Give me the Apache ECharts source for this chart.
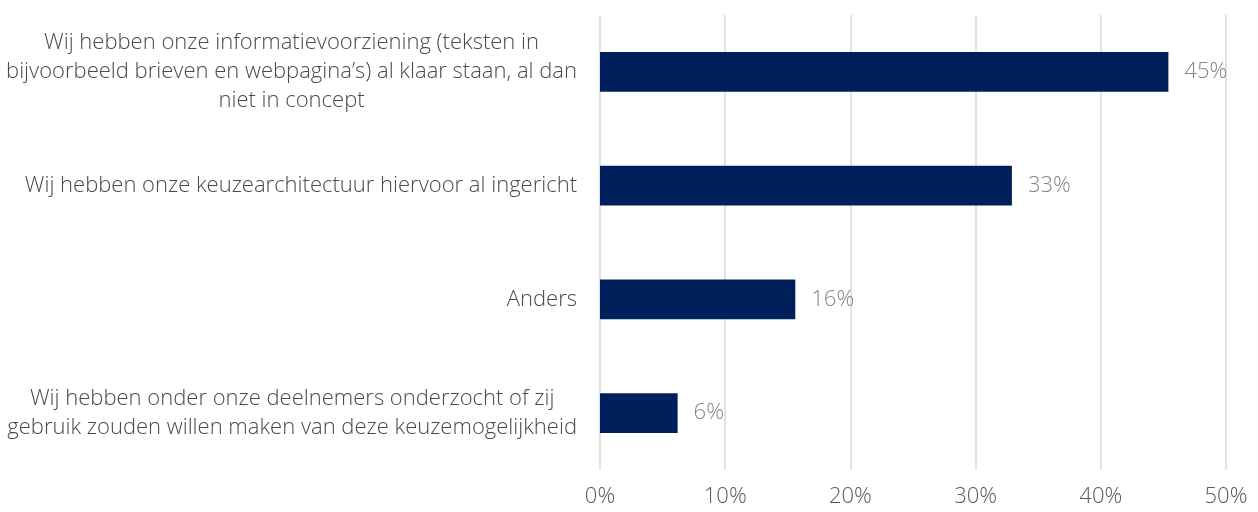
<!DOCTYPE html>
<html>
<head>
<meta charset="utf-8">
<script src="https://cdn.jsdelivr.net/npm/echarts@6/dist/echarts.min.js"></script>
<style>
  html, body { margin: 0; padding: 0; background: #fff; }
  #chart { width: 1258px; height: 512px; }
</style>
</head>
<body>
<div id="chart"></div>
<script>
const categories = [
  'Wij hebben onze informatievoorziening (teksten in\nbijvoorbeeld brieven en webpagina’s) al klaar staan, al dan\nniet in concept',
  'Wij hebben onze keuzearchitectuur hiervoor al ingericht',
  'Anders',
  'Wij hebben onder onze deelnemers onderzocht of zij\ngebruik zouden willen maken van deze keuzemogelijkheid'
]
const values = [45.4, 32.9, 15.6, 6.2]

const chart = echarts.init(document.getElementById('chart'))
chart.setOption({
  animation: false,
  grid: { left: 600, right: 32, top: 15, bottom: 42 },
  xAxis: {
    type: 'value',
    min: 0,
    max: 50,
    interval: 10,
    axisLine: { show: false },
    axisTick: { show: false },
    splitLine: { lineStyle: { color: '#d9d9d9', width: 1.5 } },
    axisLabel: {
      formatter: '{value}%',
      color: '#595959',
      fontFamily: 'Open Sans',
      fontWeight: 300,
      fontSize: 22,
      margin: 16
    }
  },
  yAxis: {
    type: 'category',
    inverse: true,
    data: categories,
    axisLine: { show: false },
    axisTick: { show: false },
    axisLabel: {
      margin: 23,
      align: 'right',
      // lines centred inside a right-aligned block
      formatter: v => v.split('\n').map(l => '{c|' + l + '}').join('\n'),
      rich: {
        c: {
          align: 'center',
          color: '#4a4a4a',
          fontFamily: 'Open Sans',
          fontWeight: 300,
          fontSize: 22,
          lineHeight: 29
        }
      }
    }
  },
  series: [{
    type: 'bar',
    data: values,
    barCategoryGap: '65%',
    itemStyle: { color: '#00205b' },
    label: {
      show: true,
      position: 'right',
      distance: 16,
      formatter: p => Math.round(p.value) + '%',
      color: '#858585',
      fontFamily: 'Open Sans',
      fontWeight: 300,
      fontSize: 22
    }
  }]
})
</script>
</body>
</html>
